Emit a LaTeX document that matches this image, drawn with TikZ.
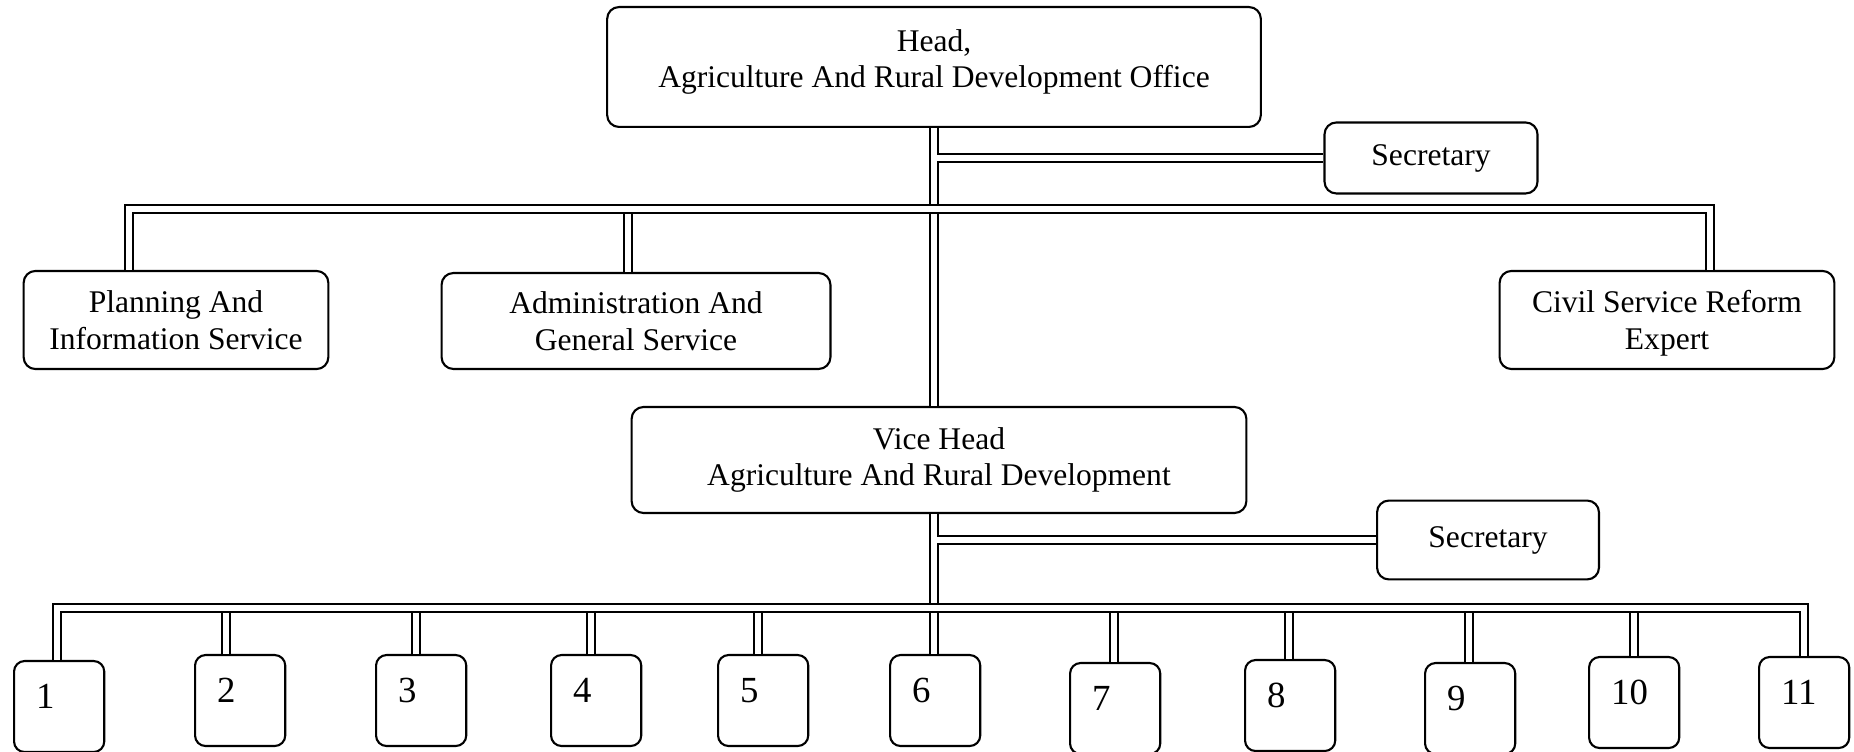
\documentclass[tikz,border=0pt]{standalone}
\usepackage{fontspec}
\setmainfont{Liberation Serif}
\usetikzlibrary{calc}
\newcommand{\pxu}{0.01336cm}

\begin{document}
\begin{tikzpicture}[x=\pxu,y=-\pxu,
  box/.style={draw,line width=.8pt,rounded corners=4.5pt,align=center,
    font=\fontsize{12}{14}\selectfont,inner sep=0pt},
  numbox/.style={box,rounded corners=4pt,anchor=north west,
    minimum width=34.2pt,minimum height=34.6pt,
    text width=17.5pt,inner xsep=8.4pt,inner ysep=0pt,align=left,
    text height=17.9pt,text depth=16.7pt,font=\fontsize{14}{16}\selectfont},
  link/.style={double,double distance=2.4pt,line width=.75pt}]
  \useasboundingbox (0,0) rectangle (1854,752);
  % offices
  \node[box,minimum width=248.6pt,minimum height=45.6pt,text depth=6.4pt] (head) at (934,67)
    {Head,\\Agriculture And Rural Development Office};
  \node[box,minimum width=81pt,minimum height=27pt] (secHead) at (1431,158) {Secretary};
  \node[box,minimum width=115.9pt,minimum height=37.3pt] (plan) at (176,320)
    {Planning And\\Information Service};
  \node[box,minimum width=147.9pt,minimum height=36.5pt] (admin) at (636,321)
    {Administration And\\General Service};
  \node[box,minimum width=127.3pt,minimum height=37.3pt,text depth=0pt] (civil) at (1667,320)
    {Civil Service Reform\\Expert};
  \node[box,minimum width=233.8pt,minimum height=40.3pt] (vice) at (939,460)
    {Vice Head\\Agriculture And Rural Development};
  \node[box,minimum width=84.4pt,minimum height=30pt] (secVice) at (1488,540) {Secretary};
  % numbered units under the vice head
  \foreach \n/\x/\t/\d in {1/13/660/57,2/194/654/226,3/375/654/416,4/550/654/591,
      5/717/654/758,6/889/654/934,7/1069/662/1114,8/1244/659/1289,
      9/1424/662/1469,10/1588/656/1634,11/1758/656/1804} {
    \node[numbox] (u\n) at (\x,\t) {\n};
    \coordinate (d\n) at (\d,608);
  }
  \coordinate (trunk) at (934,0);
  \coordinate (tPlan) at (129,209);
  \coordinate (tAdmin) at (628,209);
  \coordinate (tCivil) at (1710,209);
  % trunk first, the buses go over it
  \draw[link] (head.south -| trunk) -- (vice.north -| trunk);
  \draw[link] (vice.south -| trunk) -- (d6);
  \draw[link] (tAdmin) -- (tAdmin |- admin.north);
  \foreach \n in {2,...,10}
    \draw[link] (d\n) -- (d\n |- u\n.north);
  \draw[link] (tPlan |- plan.north) -- (tPlan) -- (tCivil) -- (tCivil |- civil.north);
  \draw[link] (d1 |- u1.north) -- (d1) -- (d11) -- (d11 |- u11.north);
  % secretaries hang off the trunk
  \draw[link] ($(secHead.west -| trunk)+(1.2pt,0)$) -- (secHead.west);
  \draw[link] ($(secVice.west -| trunk)+(1.2pt,0)$) -- (secVice.west);
\end{tikzpicture}
\end{document}
